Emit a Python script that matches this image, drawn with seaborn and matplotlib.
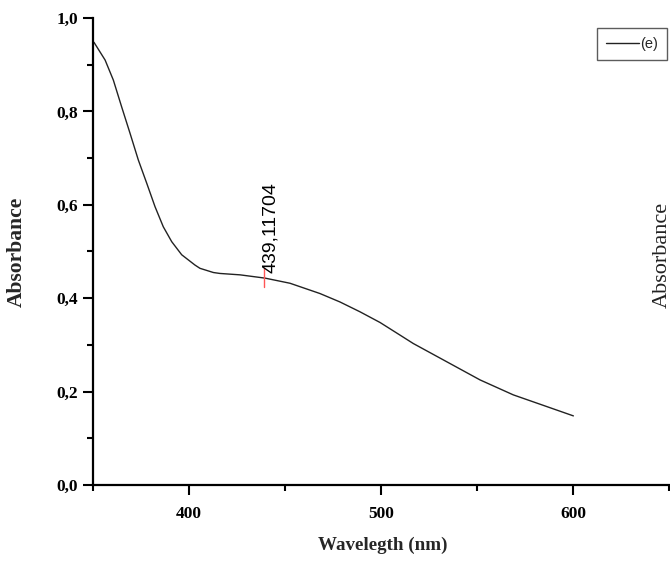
import numpy as np
import pandas as pd
import matplotlib
matplotlib.use("Agg")
import matplotlib.pyplot as plt
import seaborn as sns
from matplotlib.ticker import MultipleLocator, FuncFormatter

wavelength = [350.5, 356.3, 360.6, 364.9, 369.3, 373.6, 378.0, 382.3, 386.6, 391.0,
              396.2, 403.1, 405.7, 412.7, 416.1, 426.6, 439.6, 452.6, 468.2, 478.6,
              489.0, 499.5, 509.9, 516.8, 534.2, 551.6, 568.9, 586.3, 600.2]
absorbance = [0.948, 0.910, 0.867, 0.810, 0.753, 0.696, 0.646, 0.596, 0.553, 0.521,
              0.493, 0.471, 0.464, 0.455, 0.453, 0.450, 0.443, 0.432, 0.410, 0.392,
              0.371, 0.348, 0.321, 0.303, 0.264, 0.225, 0.193, 0.168, 0.148]
series_name = "(e)"
peak_x = 439.11704
peak_y = 0.445
peak_label = "439,11704"

df = pd.DataFrame({"Wavelength": wavelength, "Absorbance": absorbance, "series": series_name})

sns.set_style("ticks")
plt.rcParams["font.family"] = ["Liberation Serif", "DejaVu Serif"]

W, H = 670, 563
fig = plt.figure(figsize=(W / 100, H / 100), dpi=100)
ax = fig.add_axes([93 / W, (H - 485) / H, (669 - 93) / W, (485 - 18) / H])

sns.lineplot(data=df, x="Wavelength", y="Absorbance", ax=ax, color="#222222",
             linewidth=1.0, label=series_name, legend=False, sort=False)

ax.set_xlim(350, 650)
ax.set_ylim(0, 1.0)
ax.xaxis.set_major_locator(MultipleLocator(100))
ax.xaxis.set_minor_locator(MultipleLocator(50))
ax.yaxis.set_major_locator(MultipleLocator(0.2))
ax.yaxis.set_minor_locator(MultipleLocator(0.1))
ax.xaxis.set_major_formatter(FuncFormatter(lambda v, p: "" if v < 360 else f"{v:.0f}"))
ax.yaxis.set_major_formatter(FuncFormatter(lambda v, p: f"{v:.1f}".replace(".", ",")))

for sp in ["top", "right"]:
    ax.spines[sp].set_visible(False)
for sp in ["left", "bottom"]:
    ax.spines[sp].set_linewidth(1.6)
    ax.spines[sp].set_color("black")

ax.tick_params(axis="both", which="major", direction="out", length=7, width=1.5,
               labelsize=12.5, pad=4, colors="black")
ax.tick_params(axis="x", which="major", pad=8)
ax.tick_params(axis="both", which="minor", direction="out", length=4, width=1.5, colors="black")
for lbl in ax.get_xticklabels() + ax.get_yticklabels():
    lbl.set_fontweight("bold")

ax.set_xlabel("Wavelegth (nm)", fontsize=13.7, fontweight="bold")
ax.set_ylabel("Absorbance", fontsize=15.5, fontweight="bold")
ax.yaxis.set_label_coords(-(93 - 17) / (669 - 93), 0.5)
ax.xaxis.set_label_coords((383 - 93) / (669 - 93), -(545 - 485) / (485 - 18))
ax.xaxis.label.set_va("center")
ax.yaxis.label.set_va("center")

# peak marker
ax.plot([peak_x, peak_x], [0.424, 0.465], color="#ff5555", linewidth=1.0)
ax.text(peak_x - 1.0, 0.455, peak_label, rotation=90, ha="left", va="bottom",
        fontsize=14, family=["Liberation Sans", "DejaVu Sans"], color="black")

leg = ax.legend(loc="upper left", bbox_to_anchor=(597 / W, 1 - 28 / H),
                bbox_transform=fig.transFigure, frameon=True, fancybox=False,
                handlelength=2.3, handletextpad=0.05, borderpad=0.6, borderaxespad=0,
                prop={"family": ["Liberation Sans", "DejaVu Sans"], "size": 10.5})
leg.get_frame().set_edgecolor("#333333")
leg.get_frame().set_linewidth(1.0)

fig.text(662 / W, 1 - 255 / H, "Absorbance", rotation=90, ha="center", va="center",
         fontsize=16, color="#222222")

fig.savefig("out.png", dpi=100)
